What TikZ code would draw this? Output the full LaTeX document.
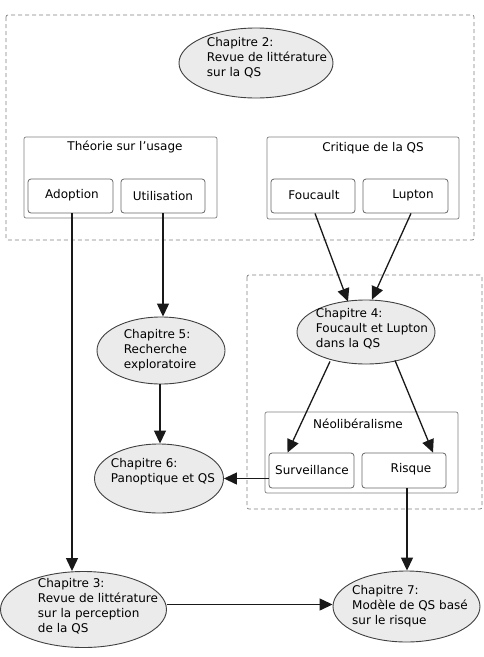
\documentclass[tikz,border=0pt]{standalone}
\usepackage{fontspec}
\setmainfont{DejaVu Sans}
\usetikzlibrary{shapes.geometric,arrows.meta,calc}
\begin{document}
\begin{tikzpicture}[x=1pt,y=-1pt,
  chap/.style={ellipse,draw=black!75,line width=0.9pt,fill=black!8,inner sep=0pt},
  ctext/.style={align=left,font=\fontsize{12}{15}\selectfont,inner sep=0pt},
  grp/.style={draw=black!50,line width=0.7pt,rounded corners=2pt},
  item/.style={draw=black!60,line width=0.8pt,rounded corners=3pt},
  ttl/.style={font=\fontsize{12}{15}\selectfont,inner sep=0pt},
  zone/.style={draw=black!50,line width=0.7pt,dash pattern=on 4pt off 3pt,rounded corners=2pt},
  arr/.style={draw=black!90,line width=1.3pt,-{Triangle[length=13pt,width=12pt]}}]
\useasboundingbox (0,0) rectangle (484,657);
% dashed zones
\draw[zone] (6,15) rectangle (474,240);
\draw[zone] (247,275) rectangle (482,509);
% Chapitre 2
\node[chap,minimum width=154pt,minimum height=70pt] (c2) at (256,63) {};
\node[ctext] (c2t) at (267,58) {Chapitre 2:\\Revue de littérature\\sur la QS};
% Théorie sur l'usage
\node[grp,minimum width=193pt,minimum height=81pt] (tu) at (120.5,177.5) {};
\node[ttl] (tut) at (125,147) {Théorie sur l'usage};
\node[item,minimum width=85pt,minimum height=34pt] (ado) at (70.5,196) {};
\node[ttl] (adot) at (72,195) {Adoption};
\node[item,minimum width=84pt,minimum height=34pt] (uti) at (163,196) {};
\node[ttl] (utit) at (163,196) {Utilisation};
% Critique de la QS
\node[grp,minimum width=192pt,minimum height=82pt] (cq) at (363,178) {};
\node[ttl] (cqt) at (373,148) {Critique de la QS};
\node[item,minimum width=84pt,minimum height=34pt] (fou) at (313,196) {};
\node[ttl] (fout) at (314,195) {Foucault};
\node[item,minimum width=85pt,minimum height=34pt] (lup) at (405.5,196) {};
\node[ttl] (lupt) at (413,195) {Lupton};
% Chapitre 4
\node[chap,minimum width=138pt,minimum height=64pt] (c4) at (366,332) {};
\node[ctext] (c4t) at (372,329) {Chapitre 4:\\Foucault et Lupton\\dans la QS};
% Chapitre 5
\node[chap,minimum width=128pt,minimum height=67pt] (c5) at (161,350.5) {};
\node[ctext] (c5t) at (160,350) {Chapitre 5:\\Recherche\\exploratoire};
% Néolibéralisme
\node[grp,minimum width=193pt,minimum height=81pt] (neo) at (361.5,452.5) {};
\node[ttl] (neot) at (358,424) {Néolibéralisme};
\node[item,minimum width=85pt,minimum height=35pt] (sur) at (311.5,470.5) {};
\node[ttl] (surt) at (312,470) {Surveillance};
\node[item,minimum width=84pt,minimum height=35pt] (ris) at (404,470.5) {};
\node[ttl] (rist) at (411,469) {Risque};
% Chapitre 6
\node[chap,minimum width=129pt,minimum height=69pt] (c6) at (159,478.5) {};
\node[ctext] (c6t) at (163,472) {Chapitre 6:\\Panoptique et QS};
% Chapitre 3
\node[chap,minimum width=166pt,minimum height=76pt] (c3) at (83.5,609.5) {};
\node[ctext] (c3t) at (98,606) {Chapitre 3:\\Revue de littérature\\sur la perception\\de la QS};
% Chapitre 7
\node[chap,minimum width=147pt,minimum height=71pt] (c7) at (406.5,606.5) {};
\node[ctext] (c7t) at (410,606) {Chapitre 7:\\Modèle de QS basé\\sur le risque};
% connectors
\coordinate (a1) at ($(ado.south)+(1.5,0)$);
\draw[arr] (a1) -- (a1 |- c3.north);
\draw[arr] (uti.south) -- (uti.south |- c5.north);
\draw[arr] ($(fou.south)+(2,0)$) -- ($(c4.north)+(-18,2)$);
\draw[arr] ($(lup.south)+(5.5,0)$) -- ($(c4.north)+(6,0)$);
\draw[arr] ($(c4.south)+(-36,-3)$) -- ($(sur.north)+(-24,0)$);
\draw[arr] ($(c4.south)+(29,-4)$) -- ($(ris.north)+(29,0)$);
\coordinate (b1) at ($(c5.south)+(-1,0)$);
\draw[arr] (b1) -- (b1 |- c6.north);
\draw[arr] (sur.west |- c6.east) -- (c6.east);
\coordinate (r1) at ($(ris.south)+(3,0)$);
\draw[arr] (r1) -- (r1 |- c7.north);
\coordinate (h1) at ($(c3.east)+(0,-5)$);
\draw[arr] (h1) -- (h1 -| c7.west);
\end{tikzpicture}
\end{document}
